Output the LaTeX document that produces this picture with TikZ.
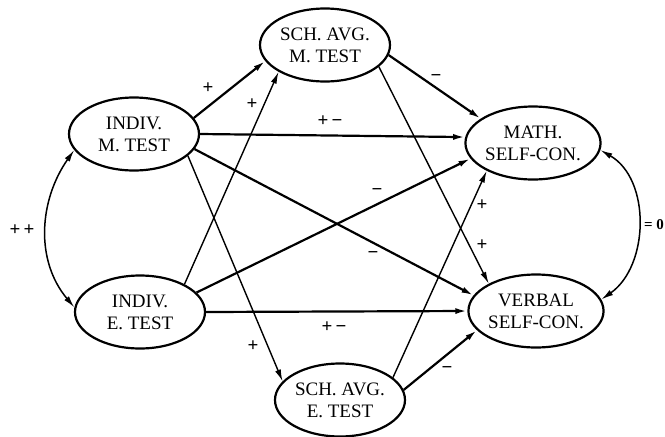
\documentclass[tikz,border=0pt]{standalone}
\usepackage{fontspec}
\setmainfont{Liberation Serif}
\usepackage{tikz}
\usetikzlibrary{arrows.meta, shapes.geometric}

\begin{document}
\begin{tikzpicture}[
  x=1pt, y=-1pt,
  var/.style={ellipse, draw=black, line width=2.2pt, align=center, inner sep=0pt,
    minimum width=130pt, minimum height=73pt, font=\fontsize{19}{22}\selectfont},
  path/.style={-{Latex[length=12pt, width=6pt]}, line width=2.2pt},
  thin path/.style={path, line width=1.4pt},
  both/.style={{Latex[length=12pt, width=6pt]}-{Latex[length=12pt, width=6pt]}, line width=1.5pt},
  sign/.style={font=\fontsize{19}{19}\selectfont\bfseries, inner sep=1pt}
]
\useasboundingbox (0,0) rectangle (665,437);

\node[var] (im) at (134,134) {INDIV.\\M. TEST};
\node[var] (ie) at (140,312) {INDIV.\\E. TEST};
\node[var] (sm) at (325,45) {SCH. AVG.\\M. TEST};
\node[var] (se) at (340,400) {SCH. AVG.\\E. TEST};
\node[var] (ma) at (533,143) {MATH.\\SELF-CON.};
\node[var] (vb) at (536,311) {VERBAL\\SELF-CON.};

\draw[path] (im.15) -- (sm.195);
\draw[thin path] (ie.32) -- (sm.210);
\draw[thin path] (im.-22) -- (se.162);
\draw[path] (im.0) -- (ma.175);
\draw[path] (im.-14) -- (vb.166);
\draw[path] (ie.19) -- (ma.194);
\draw[path] (ie.0) -- (vb.180);
\draw[path] (sm.-9) -- (ma.155);
\draw[thin path] (sm.-22) -- (vb.150);
\draw[thin path] (se.23) -- (ma.211);
\draw[path] (se.9) -- (vb.198);

\draw[both] (im.195) to[out=235, in=130] (ie.176);
\draw[both] (ma.-6) to[out=-30, in=35] (vb.10);

\node[sign] (s1) at (208,88) {+};
\node[sign] (s2) at (252,104) {+};
\node[sign] (s3) at (330,121) {+\,\textminus};
\node[sign] (s4) at (436,78) {\textminus};
\node[sign] (s5) at (377,192) {\textminus};
\node[sign] (s6) at (482,205) {+};
\node[sign] (s7) at (373,255) {\textminus};
\node[sign] (s8) at (482,245) {+};
\node[sign] (s9) at (334,327) {+\,\textminus};
\node[sign] (s10) at (253,346) {+};
\node[sign] (s11) at (447,370) {\textminus};
\node[sign] (s12) at (22,230) {+\,+};
\node[sign, anchor=east, font=\fontsize{15}{15}\selectfont\bfseries, inner sep=0pt] (s13) at (664,225) {= 0};
\end{tikzpicture}
\end{document}
